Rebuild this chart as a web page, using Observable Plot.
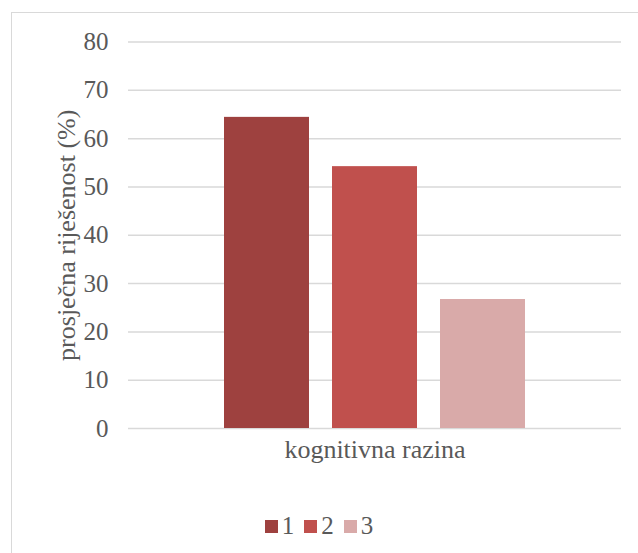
<!DOCTYPE html>
<html>
<head>
<meta charset="utf-8">
<script src="https://cdn.jsdelivr.net/npm/d3@7"></script>
<script src="https://cdn.jsdelivr.net/npm/@observablehq/plot@0.6"></script>
<style>
  body { margin: 0; padding: 0; background: #fff; font-family: "Liberation Serif", serif; }
  #wrap { position: relative; width: 638px; height: 553px; overflow: hidden; }
  #border { position: absolute; left: 11px; top: 12px; width: 627px; height: 541px; border-left: 1.5px solid #d9d9d9; border-top: 1.5px solid #d9d9d9; box-sizing: border-box; }
  #chart { position: absolute; left: 0; top: 0; }
  #legend { position: absolute; left: 0; top: 512px; width: 638px; display: flex; justify-content: center; font-size: 25px; color: #595959; font-family: "Liberation Serif", serif; }
  .item { display: flex; align-items: center; margin: 0 5px; }
  .sw { width: 13px; height: 13px; margin-right: 4px; }
</style>
</head>
<body>
<div id="wrap">
  <div id="border"></div>
  <div id="chart"></div>
  <div id="legend"></div>
</div>
<script>
const levels = ["1", "2", "3"];
const values = [64.4, 54.2, 26.7];
const colors = ["#9e413f", "#c0504d", "#d9aaa9"];
const yTicks = [0, 10, 20, 30, 40, 50, 60, 70, 80];
const xTitle = "kognitivna razina";
const yTitle = "prosječna riješenost (%)";

const FONT = "Liberation Serif";
const data = levels.map((l, i) => ({level: l, value: values[i]}));

const plot = Plot.plot({
  width: 638,
  height: 490,
  marginTop: 41.5,
  marginBottom: 62,
  marginLeft: 128,
  marginRight: 17,
  style: {fontFamily: FONT, fontSize: "25px", color: "#595959", background: "transparent"},
  x: {domain: levels, paddingInner: 0.211, paddingOuter: 0.87, axis: null},
  y: {domain: [0, 80]},
  color: {domain: levels, range: colors},
  marks: [
    Plot.ruleY(yTicks, {stroke: "#d9d9d9", strokeWidth: 1.5}),
    Plot.barY(data, {x: "level", y: "value", fill: "level"}),
    Plot.axisY({ticks: yTicks, tickSize: 0, tickPadding: 20, label: null, fontSize: 25, fontFamily: FONT, fill: "#595959"}),
    Plot.text([yTitle], {frameAnchor: "left", textAnchor: "middle", rotate: -90, dx: -62, fontSize: 26, fontFamily: FONT, fill: "#595959"}),
    Plot.text([xTitle], {frameAnchor: "bottom", dy: 29, fontSize: 26, fontFamily: FONT, fill: "#595959"})
  ]
});
document.getElementById("chart").appendChild(plot);

const legend = document.getElementById("legend");
levels.forEach((l, i) => {
  const item = document.createElement("div");
  item.className = "item";
  const sw = document.createElement("div");
  sw.className = "sw";
  sw.style.background = colors[i];
  const t = document.createElement("span");
  t.textContent = l;
  item.appendChild(sw);
  item.appendChild(t);
  legend.appendChild(item);
});
</script>
</body>
</html>
